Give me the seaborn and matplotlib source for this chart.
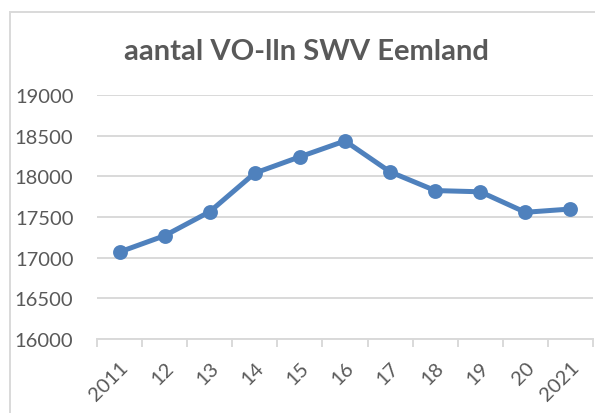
import matplotlib
matplotlib.use("Agg")
import matplotlib.pyplot as plt
import seaborn as sns
import pandas as pd
from matplotlib.patches import Rectangle

# --- data ---
jaren = ["2011", "12", "13", "14", "15", "16", "17", "18", "19", "20", "2021"]
leerlingen = [17070, 17270, 17565, 18040, 18240, 18435, 18055, 17825, 17810, 17558, 17598]

df = pd.DataFrame({"jaar": jaren, "lln": leerlingen})

sns.set_theme(style="white")
plt.rcParams["font.family"] = ["Lato", "DejaVu Sans"]

grijs_tekst = "#595959"
grijs_lijn = "#D9D9D9"
blauw = "#4F81BD"

fig = plt.figure(figsize=(5.95, 4.14), dpi=100)
ax = fig.add_axes([97 / 595, 74 / 414, 496 / 595, 244 / 414])

sns.pointplot(data=df, x="jaar", y="lln", order=jaren, color=blauw,
              markersize=8, linewidth=3.6, ax=ax, zorder=3)

ax.set_ylim(16000, 19000)
ax.set_yticks(range(16000, 19001, 500))
ax.set_xlim(-0.5, len(jaren) - 0.5)
ax.yaxis.grid(True, color=grijs_lijn, linewidth=1.4)
ax.set_axisbelow(True)

for s in ["top", "right", "left"]:
    ax.spines[s].set_visible(False)
ax.spines["bottom"].set_color(grijs_lijn)
ax.spines["bottom"].set_linewidth(1.4)

# tick marks tussen de categorieën
ax.set_xticks([i - 0.5 for i in range(len(jaren) + 1)], minor=True)
ax.tick_params(axis="x", which="minor", length=6, color=grijs_lijn, width=1.4, bottom=True)
ax.tick_params(axis="x", which="major", length=0, pad=14)
ax.tick_params(axis="y", length=0, pad=17)
ax.set_xticks(range(len(jaren)))
ax.set_xticklabels(jaren, rotation=45, ha="right", rotation_mode="anchor",
                   fontsize=14.5, color=grijs_tekst)
for lab in ax.get_yticklabels():
    lab.set_fontsize(14.5)
    lab.set_color(grijs_tekst)

ax.set_xlabel("")
ax.set_ylabel("")

fig.text(306 / 595, 1 - 52 / 414, "aantal VO-lln SWV Eemland", ha="center", va="center",
         fontsize=21, fontweight="bold", color=grijs_tekst)

# rand van het grafiekgebied
fig.patches.append(Rectangle((10 / 595, -0.1), 1.2, 1 - 13 / 414 + 0.1,
                             transform=fig.transFigure, fill=False,
                             edgecolor=grijs_lijn, linewidth=1.4))

fig.savefig("out.png", dpi=100)
